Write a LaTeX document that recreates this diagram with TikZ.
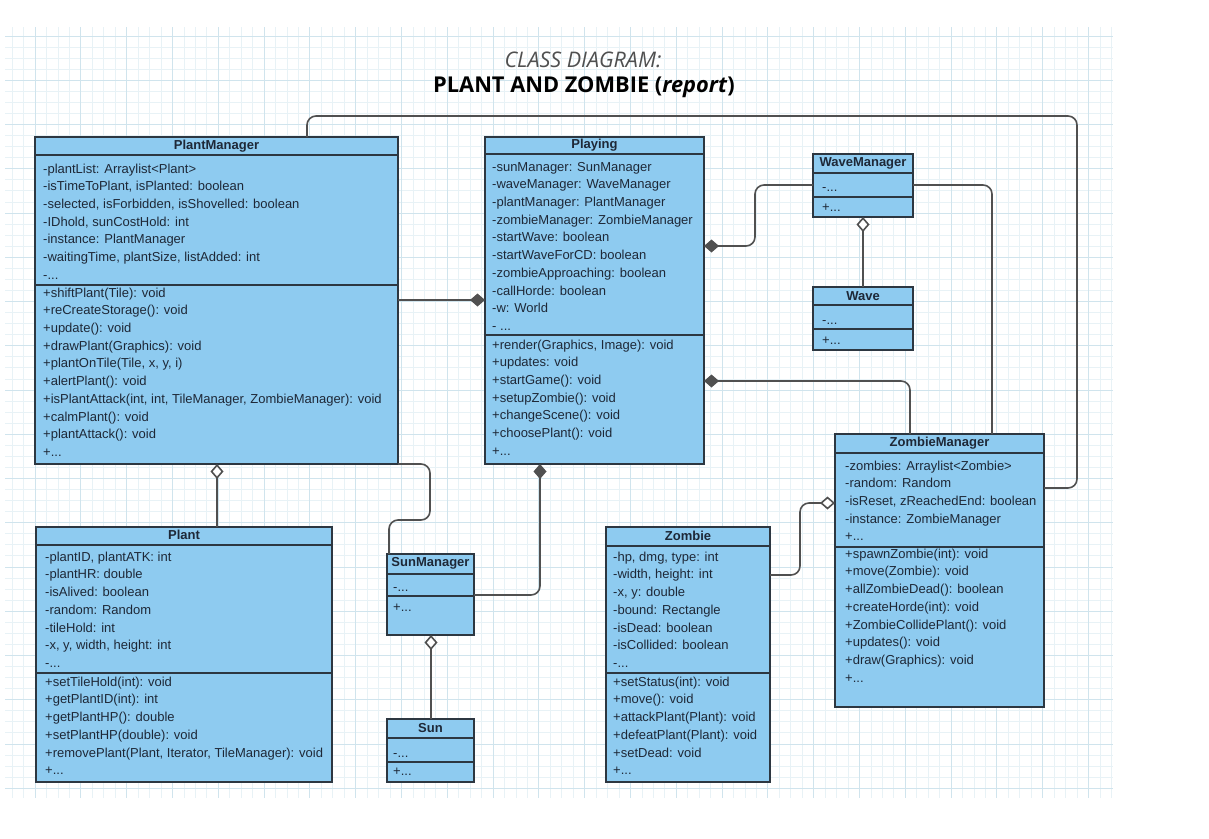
\documentclass[tikz,border=0pt]{standalone}
\usepackage{fontspec}
\setmainfont{Liberation Sans}
\newfontfamily\titlefont{Open Sans}
\usetikzlibrary{arrows.meta,calc}
\definecolor{boxfill}{RGB}{142,203,240}
\definecolor{boxline}{RGB}{45,55,65}
\definecolor{conncol}{RGB}{80,80,80}
\definecolor{txtcol}{RGB}{30,40,55}
\definecolor{gridminor}{RGB}{232,242,246}
\definecolor{gridmajor}{RGB}{208,228,237}
\definecolor{titlegray}{RGB}{80,80,80}
\begin{document}
\begin{tikzpicture}[x=1pt,y=-1pt,
 cls/.style={draw=boxline, fill=boxfill, line width=1.3pt, rectangle, inner sep=0pt, outer sep=0pt, anchor=north west},
 ttl/.style={font=\fontsize{13}{15}\selectfont\bfseries, text=txtcol, inner sep=0pt},
 txt/.style={font=\fontsize{13}{17.7}\selectfont, text=txtcol, align=left, anchor=north west, inner sep=0pt},
 sepl/.style={draw=boxline, line width=1.3pt},
 conn/.style={draw=conncol, line width=1.6pt, rounded corners=9pt},
 comp/.style={-{Diamond[length=15pt,width=13pt]}},
 aggr/.style={-{Diamond[open,length=15pt,width=13pt,fill=white]}},
]
\useasboundingbox (0,0) rectangle (1209,838);
\fill[white] (0,0) rectangle (1209,838);
% grid
\begin{scope}
\clip (5,27) rectangle (1113,798);
\foreach \i in {-3,...,95} \draw[gridminor, line width=0.7pt] ({35+\i*11.45},27) -- ++(0,771);
\foreach \j in {-1,...,70} \draw[gridminor, line width=0.7pt] (5,{36+\j*11.06}) -- ++(1108,0);
\foreach \i in {-1,...,24} \draw[gridmajor, line width=0.9pt] ({35+\i*45.8},27) -- ++(0,771);
\foreach \j in {-1,...,18} \draw[gridmajor, line width=0.9pt] (5,{36+\j*44.25}) -- ++(1108,0);
\end{scope}

% title
\node[font=\titlefont\itshape\fontsize{21.5}{25}\selectfont, text=titlegray] (t1) at (583,60) {CLASS DIAGRAM:};
\node[font=\titlefont\bfseries\fontsize{21.8}{26}\selectfont, text=black] (t2) at (584,87) {PLANT AND ZOMBIE (\textit{report})};

% PlantManager
\node[cls, minimum width=363pt, minimum height=327pt] (PM) at (35,137) {};
\draw[sepl] ($(PM.north west)+(0,18)$) -- ($(PM.north east)+(0,18)$);
\draw[sepl] ($(PM.north west)+(0,148)$) -- ($(PM.north east)+(0,148)$);
\node[ttl] (PMt) at ($(PM.north)+(0,9)$) {PlantManager};
\node[txt] (PMa) at (43,160.6) {\strut -plantList: Arraylist<Plant>\\-isTimeToPlant, isPlanted: boolean\\-selected, isForbidden, isShovelled: boolean\\-IDhold, sunCostHold: int\\-instance: PlantManager\\-waitingTime, plantSize, listAdded: int\\-...};
\node[txt] (PMm) at (43,284.6) {\strut +shiftPlant(Tile): void\\+reCreateStorage(): void\\+update(): void\\+drawPlant(Graphics): void\\+plantOnTile(Tile, x, y, i)\\+alertPlant(): void\\+isPlantAttack(int, int, TileManager, ZombieManager): void\\+calmPlant(): void\\+plantAttack(): void\\+...};

% Playing
\node[cls, minimum width=219pt, minimum height=327pt] (PL) at (485,137) {};
\draw[sepl] ($(PL.north west)+(0,17)$) -- ($(PL.north east)+(0,17)$);
\draw[sepl] ($(PL.north west)+(0,198)$) -- ($(PL.north east)+(0,198)$);
\node[ttl] (PLt) at ($(PL.north)+(0,8.5)$) {Playing};
\node[txt] (PLa) at (492,158.6) {\strut -sunManager: SunManager\\-waveManager: WaveManager\\-plantManager: PlantManager\\-zombieManager: ZombieManager\\-startWave: boolean\\-startWaveForCD: boolean\\-zombieApproaching: boolean\\-callHorde: boolean\\-w: World\\- ...};
\node[txt] (PLm) at (492,336.6) {\strut +render(Graphics, Image): void\\+updates: void\\+startGame(): void\\+setupZombie(): void\\+changeScene(): void\\+choosePlant(): void\\+...};

% WaveManager
\node[cls, minimum width=100pt, minimum height=63pt] (WM) at (813,154) {};
\draw[sepl] ($(WM.north west)+(0,19)$) -- ($(WM.north east)+(0,19)$);
\draw[sepl] ($(WM.north west)+(0,43)$) -- ($(WM.north east)+(0,43)$);
\node[ttl] (WMt) at ($(WM.north)+(0,9.5)$) {WaveManager};
\node[txt] (WMa) at (822,178.6) {\strut -...};
\node[txt] (WMm) at (822,198.6) {\strut +...};

% Wave
\node[cls, minimum width=100pt, minimum height=63pt] (WV) at (813,287) {};
\draw[sepl] ($(WV.north west)+(0,18)$) -- ($(WV.north east)+(0,18)$);
\draw[sepl] ($(WV.north west)+(0,42)$) -- ($(WV.north east)+(0,42)$);
\node[ttl] (WVt) at ($(WV.north)+(0,9)$) {Wave};
\node[txt] (WVa) at (822,311.6) {\strut -...};
\node[txt] (WVm) at (822,331.6) {\strut +...};

% ZombieManager
\node[cls, minimum width=209pt, minimum height=273pt] (ZM) at (835,434) {};
\draw[sepl] ($(ZM.north west)+(0,19)$) -- ($(ZM.north east)+(0,19)$);
\draw[sepl] ($(ZM.north west)+(0,113)$) -- ($(ZM.north east)+(0,113)$);
\node[ttl] (ZMt) at ($(ZM.north)+(0,9.5)$) {ZombieManager};
\node[txt] (ZMa) at (845,457.6) {\strut -zombies: Arraylist<Zombie>\\-random: Random\\-isReset, zReachedEnd: boolean\\-instance: ZombieManager\\+...};
\node[txt] (ZMm) at (845,545.6) {\strut +spawnZombie(int): void\\+move(Zombie): void\\+allZombieDead(): boolean\\+createHorde(int): void\\+ZombieCollidePlant(): void\\+updates(): void\\+draw(Graphics): void\\+...};

% Plant
\node[cls, minimum width=296pt, minimum height=255pt] (PT) at (36,527) {};
\draw[sepl] ($(PT.north west)+(0,18)$) -- ($(PT.north east)+(0,18)$);
\draw[sepl] ($(PT.north west)+(0,146)$) -- ($(PT.north east)+(0,146)$);
\node[ttl] (PTt) at ($(PT.north)+(0,8)$) {Plant};
\node[txt] (PTa) at (45,548.6) {\strut -plantID, plantATK: int\\-plantHR: double\\-isAlived: boolean\\-random: Random\\-tileHold: int\\-x, y, width, height: int\\-...};
\node[txt] (PTm) at (45,673.6) {\strut +setTileHold(int): void\\+getPlantID(int): int\\+getPlantHP(): double\\+setPlantHP(double): void\\+removePlant(Plant, Iterator, TileManager): void\\+...};

% SunManager
\node[cls, minimum width=87pt, minimum height=81pt] (SM) at (387,554) {};
\draw[sepl] ($(SM.north west)+(0,20)$) -- ($(SM.north east)+(0,20)$);
\draw[sepl] ($(SM.north west)+(0,42)$) -- ($(SM.north east)+(0,42)$);
\node[ttl] (SMt) at ($(SM.north)+(0,9.5)$) {SunManager};
\node[txt] (SMa) at (393,578.6) {\strut -...};
\node[txt] (SMm) at (393,598.6) {\strut +...};

% Sun
\node[cls, minimum width=87pt, minimum height=63pt] (SU) at (387,719) {};
\draw[sepl] ($(SU.north west)+(0,19)$) -- ($(SU.north east)+(0,19)$);
\draw[sepl] ($(SU.north west)+(0,43)$) -- ($(SU.north east)+(0,43)$);
\node[ttl] (SUt) at ($(SU.north)+(0,9)$) {Sun};
\node[txt] (SUa) at (393,744.6) {\strut -...};
\node[txt] (SUm) at (393,762.6) {\strut +...};

% Zombie
\node[cls, minimum width=164pt, minimum height=255pt] (ZB) at (606,527) {};
\draw[sepl] ($(ZB.north west)+(0,19)$) -- ($(ZB.north east)+(0,19)$);
\draw[sepl] ($(ZB.north west)+(0,146)$) -- ($(ZB.north east)+(0,146)$);
\node[ttl] (ZBt) at ($(ZB.north)+(0,8.5)$) {Zombie};
\node[txt] (ZBa) at (613,548.6) {\strut -hp, dmg, type: int\\-width, height: int\\-x, y: double\\-bound: Rectangle\\-isDead: boolean\\-isCollided: boolean\\-...};
\node[txt] (ZBm) at (613,673.6) {\strut +setStatus(int): void\\+move(): void\\+attackPlant(Plant): void\\+defeatPlant(Plant): void\\+setDead: void\\+...};

% connectors
\draw[conn] ($(PM.north west)+(272,0)$) -- (307,116) -- (1077,116) -- (1077,488) -- ($(ZM.north east)+(0,54)$);
\draw[conn,comp] ($(PM.north east)+(0,163)$) -- ($(PL.north west)+(0,163)$);
\draw[conn,comp] ($(WM.north west)+(0,31)$) -- (755,185) -- (755,246) -- ($(PL.north east)+(0,109)$);
\draw[conn] ($(WM.north east)+(0,31)$) -- (992,185) -- ($(ZM.north west)+(157,0)$);
\draw[conn,aggr] (WV.north) -- (WM.south);
\draw[conn,comp] ($(ZM.north west)+(75,0)$) -- (910,381) -- ($(PL.north east)+(0,244)$);
\draw[conn,comp] ($(SM.north east)+(0,41)$) -- (540,595) -- ($(PL.south west)+(55,0)$);
\draw[conn] (PM.south east) -- (430,464) -- (430,520) -- (389,520) -- ($(SM.north west)+(2,0)$);
\draw[conn,aggr] ($(PT.north west)+(181,0)$) -- ($(PM.south west)+(182,0)$);
\draw[conn,aggr] ($(SU.north)+(0.5,0)$) -- ($(SM.south)+(0.5,0)$);
\draw[conn,aggr] ($(ZB.north east)+(0,48)$) -- (800,575) -- (800,503) -- ($(ZM.north west)+(0,69)$);
\end{tikzpicture}
\end{document}
